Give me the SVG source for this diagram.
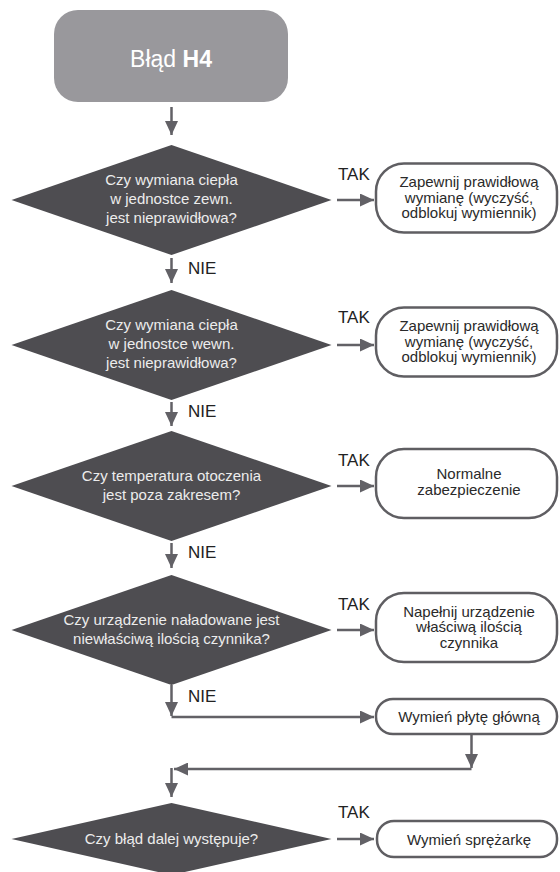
<svg xmlns="http://www.w3.org/2000/svg" width="560" height="872" viewBox="0 0 560 872">
<style>
.bg{fill:#ffffff}
.start{fill:#99989c}
.dec{fill:#4e4d51}
.res{fill:#ffffff;stroke:#5f5e62;stroke-width:2.5}
.ln{fill:none;stroke:#626166;stroke-width:2.5}
.st{font-family:"Liberation Sans",Arial,sans-serif;font-size:23px;fill:#ffffff;text-anchor:middle}
.dt{font-family:"Liberation Sans",Arial,sans-serif;font-size:15px;fill:#ececec;text-anchor:middle}
.rt{font-family:"Liberation Sans",Arial,sans-serif;font-size:15px;fill:#2a2a2a;text-anchor:middle}
.lb{font-family:"Liberation Sans",Arial,sans-serif;font-size:17px;fill:#222222}
</style>
<defs>
<marker id="ah" markerUnits="userSpaceOnUse" markerWidth="15" markerHeight="13" refX="14" refY="6.5" orient="auto">
<path d="M0,0 L14,6.5 L0,13 Z" fill="#626166"/>
</marker>
</defs>
<rect class="bg" x="0" y="0" width="560" height="872"/>

<g id="connectors">
<path class="ln" d="M171.5,107 V135" marker-end="url(#ah)"/>
<path class="ln" d="M171.5,258 V283" marker-end="url(#ah)"/>
<path class="ln" d="M171.5,402 V426" marker-end="url(#ah)"/>
<path class="ln" d="M171.5,543 V568" marker-end="url(#ah)"/>
<path class="ln" d="M171.5,685 V716" marker-end="url(#ah)"/>
<path class="ln" d="M171.5,717 H374" marker-end="url(#ah)"/>
<path class="ln" d="M471.5,735 V768" marker-end="url(#ah)"/>
<path class="ln" d="M471.5,769 H174" marker-end="url(#ah)"/>
<path class="ln" d="M171.5,768 V797" marker-end="url(#ah)"/>
<path class="ln" d="M337,200 H374" marker-end="url(#ah)"/>
<path class="ln" d="M337,345 H374" marker-end="url(#ah)"/>
<path class="ln" d="M337,486 H374" marker-end="url(#ah)"/>
<path class="ln" d="M337,630 H374" marker-end="url(#ah)"/>
<path class="ln" d="M337,839 H374" marker-end="url(#ah)"/>
<text class="lb" x="338" y="180">TAK</text>
<text class="lb" x="338" y="323">TAK</text>
<text class="lb" x="338" y="466">TAK</text>
<text class="lb" x="338" y="610">TAK</text>
<text class="lb" x="338" y="818">TAK</text>
<text class="lb" x="188" y="274">NIE</text>
<text class="lb" x="188" y="417">NIE</text>
<text class="lb" x="188" y="558">NIE</text>
<text class="lb" x="188" y="702">NIE</text>
</g>

<g id="start">
<rect class="start" x="54" y="10" width="234" height="92" rx="24" ry="24"/>
<text class="st" x="171" y="67">Błąd <tspan font-weight="bold">H4</tspan></text>
</g>

<g id="q1">
<polygon class="dec" points="171.5,145 331.5,200 171.5,255 11.5,200"/>
<text class="dt" x="171.5" y="185">Czy wymiana ciepła</text>
<text class="dt" x="171.5" y="204">w jednostce zewn.</text>
<text class="dt" x="171.5" y="223">jest nieprawidłowa?</text>
</g>

<g id="r1">
<rect class="res" x="376" y="163.5" width="181" height="69" rx="28" ry="28"/>
<text class="rt" x="469" y="187">Zapewnij prawidłową</text>
<text class="rt" x="469" y="202.5">wymianę (wyczyść,</text>
<text class="rt" x="469" y="218">odblokuj wymiennik)</text>
</g>

<g id="q2">
<polygon class="dec" points="171.5,290 331.5,345 171.5,400 11.5,345"/>
<text class="dt" x="171.5" y="330">Czy wymiana ciepła</text>
<text class="dt" x="171.5" y="349">w jednostce wewn.</text>
<text class="dt" x="171.5" y="368">jest nieprawidłowa?</text>
</g>

<g id="r2">
<rect class="res" x="376" y="307.5" width="181" height="69" rx="28" ry="28"/>
<text class="rt" x="469" y="331">Zapewnij prawidłową</text>
<text class="rt" x="469" y="346.5">wymianę (wyczyść,</text>
<text class="rt" x="469" y="362">odblokuj wymiennik)</text>
</g>

<g id="q3">
<polygon class="dec" points="171.5,431 331.5,486 171.5,541 11.5,486"/>
<text class="dt" x="171.5" y="481">Czy temperatura otoczenia</text>
<text class="dt" x="171.5" y="500">jest poza zakresem?</text>
</g>

<g id="r3">
<rect class="res" x="376" y="449" width="181" height="69" rx="28" ry="28"/>
<text class="rt" x="469" y="479">Normalne</text>
<text class="rt" x="469" y="495">zabezpieczenie</text>
</g>

<g id="q4">
<polygon class="dec" points="171.5,575 331.5,630 171.5,685 11.5,630"/>
<text class="dt" x="171.5" y="625">Czy urządzenie naładowane jest</text>
<text class="dt" x="171.5" y="644">niewłaściwą ilością czynnika?</text>
</g>

<g id="r4">
<rect class="res" x="376" y="593" width="181" height="69" rx="28" ry="28"/>
<text class="rt" x="469" y="616.5">Napełnij urządzenie</text>
<text class="rt" x="469" y="632">właściwą ilością</text>
<text class="rt" x="469" y="647.5">czynnika</text>
</g>

<g id="r5">
<rect class="res" x="376" y="699" width="181" height="35" rx="17" ry="17"/>
<text class="rt" x="469" y="721.5">Wymień płytę główną</text>
</g>

<g id="q5">
<polygon class="dec" points="171.5,803 331.5,839 171.5,875 11.5,839"/>
<text class="dt" x="171.5" y="844">Czy błąd dalej występuje?</text>
</g>

<g id="r6">
<rect class="res" x="377" y="821" width="180" height="36" rx="17" ry="17"/>
<text class="rt" x="469" y="844.5">Wymień sprężarkę</text>
</g>
</svg>
